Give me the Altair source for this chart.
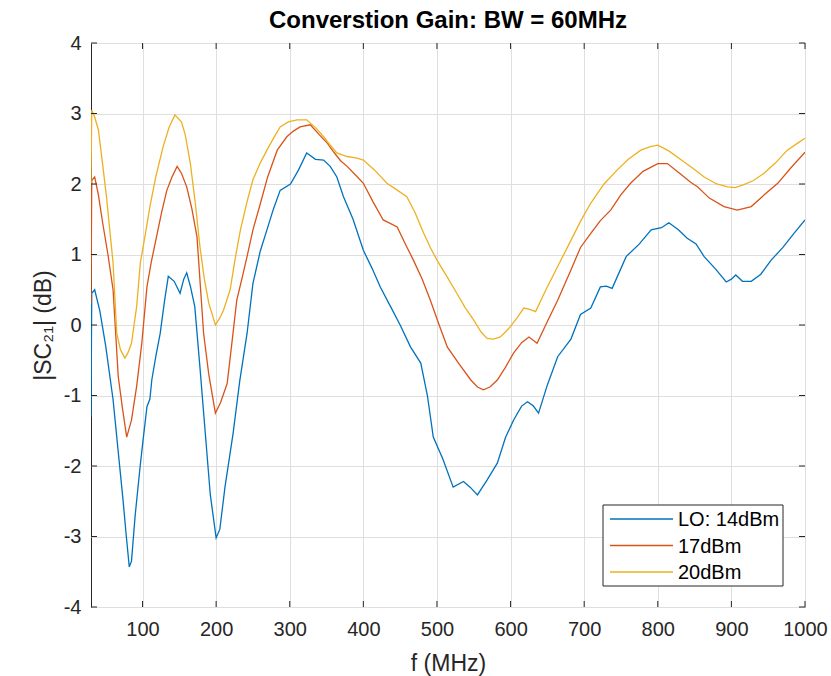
import altair as alt
import pandas as pd

# ---------------- data ----------------
f_14 = [30, 31, 35, 42, 50, 60, 67, 73.5, 78, 82, 85, 90, 96.7, 100, 106, 110, 112.6, 118, 124, 130,
        135, 143, 151, 156, 160, 165, 171, 178, 185, 192, 200, 205, 212, 223, 232, 242, 250, 260, 269,
        278, 287, 301, 312, 323, 335, 346, 355, 364, 373, 386, 400, 412, 423, 437, 450, 464, 478, 487,
        495, 508, 522, 536, 545, 555, 568, 582, 593, 604, 615, 623, 631, 638, 650, 664, 682, 695, 709,
        722, 730, 738, 757, 775, 791, 805, 815, 828, 840, 852, 863, 878, 893, 900, 906, 915, 927, 940,
        954, 970, 985, 1000]
v_14 = [-1.3, 0.45, 0.5, 0.2, -0.3, -1.06, -1.8, -2.48, -3.0, -3.43, -3.35, -2.7, -2.01, -1.7, -1.16,
        -1.05, -0.78, -0.45, -0.12, 0.35, 0.69, 0.62, 0.45, 0.65, 0.74, 0.55, 0.26, -0.6, -1.5, -2.4,
        -3.02, -2.9, -2.3, -1.54, -0.8, -0.12, 0.59, 1.05, 1.35, 1.65, 1.91, 2.0, 2.2, 2.44, 2.35, 2.34,
        2.25, 2.1, 1.82, 1.5, 1.06, 0.8, 0.54, 0.26, 0.0, -0.31, -0.54, -1.0, -1.59, -1.9, -2.3, -2.22,
        -2.3, -2.41, -2.2, -1.96, -1.6, -1.35, -1.15, -1.09, -1.15, -1.25, -0.85, -0.45, -0.2, 0.15,
        0.24, 0.54, 0.55, 0.52, 0.97, 1.15, 1.35, 1.38, 1.45, 1.35, 1.23, 1.15, 0.97, 0.8, 0.61, 0.65,
        0.71, 0.62, 0.62, 0.72, 0.92, 1.1, 1.3, 1.49]

f_17 = [30, 31, 35, 40, 46, 53, 60, 67, 73, 78.5, 85, 92, 99, 106, 112, 119, 126, 133, 140, 147, 153,
        160, 167, 174, 183, 190, 199, 206, 215, 222, 228, 236, 242, 250, 260, 270, 283, 296, 305, 314,
        328, 340, 351, 360, 369, 378, 390, 400, 413, 427, 446, 457, 468, 480, 491, 503, 514, 530, 546,
        555, 563, 572, 582, 593, 604, 615, 625, 636, 650, 664, 682, 695, 709, 722, 736, 750, 763, 780,
        800, 813, 830, 845, 854, 870, 890, 908, 927, 945, 963, 980, 1000]
v_17 = [0.3, 2.05, 2.1, 1.85, 1.44, 1.0, 0.5, -0.73, -1.2, -1.59, -1.35, -0.87, -0.26, 0.54, 0.9, 1.25,
        1.6, 1.91, 2.1, 2.25, 2.15, 1.96, 1.65, 1.25, -0.12, -0.7, -1.25, -1.1, -0.83, -0.2, 0.35, 0.7,
        0.97, 1.35, 1.72, 2.1, 2.48, 2.67, 2.75, 2.81, 2.84, 2.7, 2.58, 2.45, 2.33, 2.25, 2.12, 2.01,
        1.75, 1.49, 1.39, 1.15, 0.92, 0.65, 0.35, 0.0, -0.31, -0.55, -0.78, -0.88, -0.92, -0.88, -0.78,
        -0.6, -0.4, -0.25, -0.17, -0.26, 0.05, 0.35, 0.78, 1.1, 1.3, 1.48, 1.63, 1.85, 2.01, 2.18, 2.29,
        2.29, 2.15, 2.02, 1.96, 1.8, 1.68, 1.63, 1.68, 1.85, 2.01, 2.22, 2.45]

f_20 = [30, 31, 35, 40, 45, 51, 55, 60, 65, 70, 76, 80, 85, 92, 97, 104, 110, 118, 128, 136, 144, 153,
        158, 165, 172, 178, 184, 190, 199, 205, 210, 219, 226, 233, 242, 250, 260, 269, 278, 287, 298,
        310, 323, 335, 346, 355, 364, 378, 390, 400, 415, 432, 445, 459, 470, 482, 491, 500, 514, 527,
        538, 550, 560, 568, 577, 586, 593, 600, 610, 618, 626, 634, 648, 664, 682, 695, 709, 727, 745,
        760, 777, 790, 800, 815, 832, 848, 863, 880, 895, 905, 917, 930, 944, 960, 976, 990, 1000]
v_20 = [2.0, 3.05, 2.95, 2.77, 2.35, 1.82, 1.4, 0.88, -0.12, -0.35, -0.47, -0.4, -0.26, 0.26, 0.88,
        1.3, 1.68, 2.1, 2.53, 2.8, 2.98, 2.88, 2.7, 2.29, 1.7, 1.11, 0.65, 0.31, 0.0, 0.1, 0.21, 0.5,
        0.95, 1.35, 1.75, 2.06, 2.3, 2.48, 2.65, 2.81, 2.88, 2.91, 2.91, 2.8, 2.67, 2.55, 2.44, 2.39,
        2.37, 2.34, 2.2, 2.01, 1.92, 1.82, 1.6, 1.3, 1.1, 0.92, 0.68, 0.45, 0.25, 0.07, -0.1, -0.19,
        -0.2, -0.17, -0.1, -0.02, 0.12, 0.24, 0.22, 0.19, 0.5, 0.83, 1.2, 1.47, 1.73, 2.0, 2.2, 2.35,
        2.48, 2.53, 2.55, 2.47, 2.34, 2.22, 2.1, 2.0, 1.96, 1.95, 1.99, 2.05, 2.15, 2.3, 2.48, 2.58, 2.65]

series_labels = ["LO: 14dBm", "17dBm", "20dBm"]
series_colors = ["#0072BD", "#D95319", "#EDB120"]
x_ticks = [100, 200, 300, 400, 500, 600, 700, 800, 900, 1000]
y_ticks = [-4, -3, -2, -1, 0, 1, 2, 3, 4]
chart_title = "Converstion Gain: BW = 60MHz"

# ---------------- build table ----------------
rows = []
for lab, fs, vs in zip(series_labels, [f_14, f_17, f_20], [v_14, v_17, v_20]):
    for i, (f, v) in enumerate(zip(fs, vs)):
        rows.append({"f": f, "v": v, "s": lab, "i": i})
df = pd.DataFrame(rows)

W, H = 714, 564
FONT = "Liberation Sans, Arial, Helvetica, sans-serif"
xscale = alt.Scale(domain=[30, 1000], nice=False, zero=False)
yscale = alt.Scale(domain=[-4, 4], nice=False, zero=False)
plain = "'' + datum.value"

lines = alt.Chart(df).mark_line(strokeWidth=1.3, clip=True).encode(
    x=alt.X("f:Q", scale=xscale,
            axis=alt.Axis(values=x_ticks, title="f (MHz)", grid=True, domain=False, ticks=False,
                          labelExpr=plain,
                          labelFontSize=20, labelPadding=12, labelColor="#262626", labelFont=FONT,
                          titleFont=FONT, titleFontSize=23, titleFontWeight="normal",
                          titleColor="#262626", titleY=56, titleBaseline="middle",
                          gridColor="#dfdfdf", labelFlush=False)),
    y=alt.Y("v:Q", scale=yscale,
            axis=alt.Axis(values=y_ticks, title="|SC₂₁| (dB)", grid=True, domain=False, ticks=False,
                          labelExpr=plain,
                          labelFontSize=20, labelPadding=10, labelColor="#262626", labelFont=FONT,
                          titleFont=FONT, titleFontSize=23, titleFontWeight="normal",
                          titleColor="#262626", titleX=-48, titleY=282, titleBaseline="middle",
                          gridColor="#dfdfdf", labelFlush=False)),
    color=alt.Color("s:N", scale=alt.Scale(domain=series_labels, range=series_colors), legend=None),
    order="i:Q",
)

xt = pd.DataFrame({"t": x_ticks})
yt = pd.DataFrame({"t": y_ticks})
tick_col = "#262626"
xb = alt.Chart(xt).mark_rule(color=tick_col).encode(
    x=alt.X("t:Q", scale=xscale), y=alt.value(H), y2=alt.value(H - 6))
xtop = alt.Chart(xt).mark_rule(color=tick_col).encode(
    x=alt.X("t:Q", scale=xscale), y=alt.value(0), y2=alt.value(6))
yl = alt.Chart(yt).mark_rule(color=tick_col).encode(
    y=alt.Y("t:Q", scale=yscale), x=alt.value(0), x2=alt.value(6))
yr = alt.Chart(yt).mark_rule(color=tick_col).encode(
    y=alt.Y("t:Q", scale=yscale), x=alt.value(W), x2=alt.value(W - 6))

# ---------------- title as text ----------------
title_layer = alt.Chart(pd.DataFrame({"t": [chart_title]})).mark_text(
    align="center", baseline="alphabetic", font=FONT, fontSize=24, fontWeight="bold",
    color="#000000").encode(x=alt.value(W / 2), y=alt.value(-15), text="t:N")

# ---------------- manual legend ----------------
one = pd.DataFrame({"a": [0]})
leg_box = alt.Chart(one).mark_rect(fill="white", stroke="#262626", strokeWidth=1).encode(
    x=alt.value(512), x2=alt.value(692), y=alt.value(462), y2=alt.value(543))
leg_layers = [leg_box]
for k, (lab, col) in enumerate(zip(series_labels, series_colors)):
    yy = 476 + 26.5 * k
    d = pd.DataFrame({"label": [lab]})
    leg_layers.append(alt.Chart(d).mark_rule(color=col, strokeWidth=1.3).encode(
        x=alt.value(519), x2=alt.value(582), y=alt.value(yy)))
    leg_layers.append(alt.Chart(d).mark_text(align="left", baseline="middle", font=FONT,
                                             fontSize=20, color="#000000").encode(
        x=alt.value(587), y=alt.value(yy + 1), text="label:N"))

chart = alt.layer(lines, xb, xtop, yl, yr, title_layer, *leg_layers).properties(
    width=W, height=H,
    autosize=alt.AutoSizeParams(type="none"),
    padding={"left": 91, "top": 43, "right": 26, "bottom": 69},
    background="white",
).configure_view(stroke="#262626", strokeWidth=1)

chart.save("out.html", embed_options={"renderer": "svg", "actions": False})
